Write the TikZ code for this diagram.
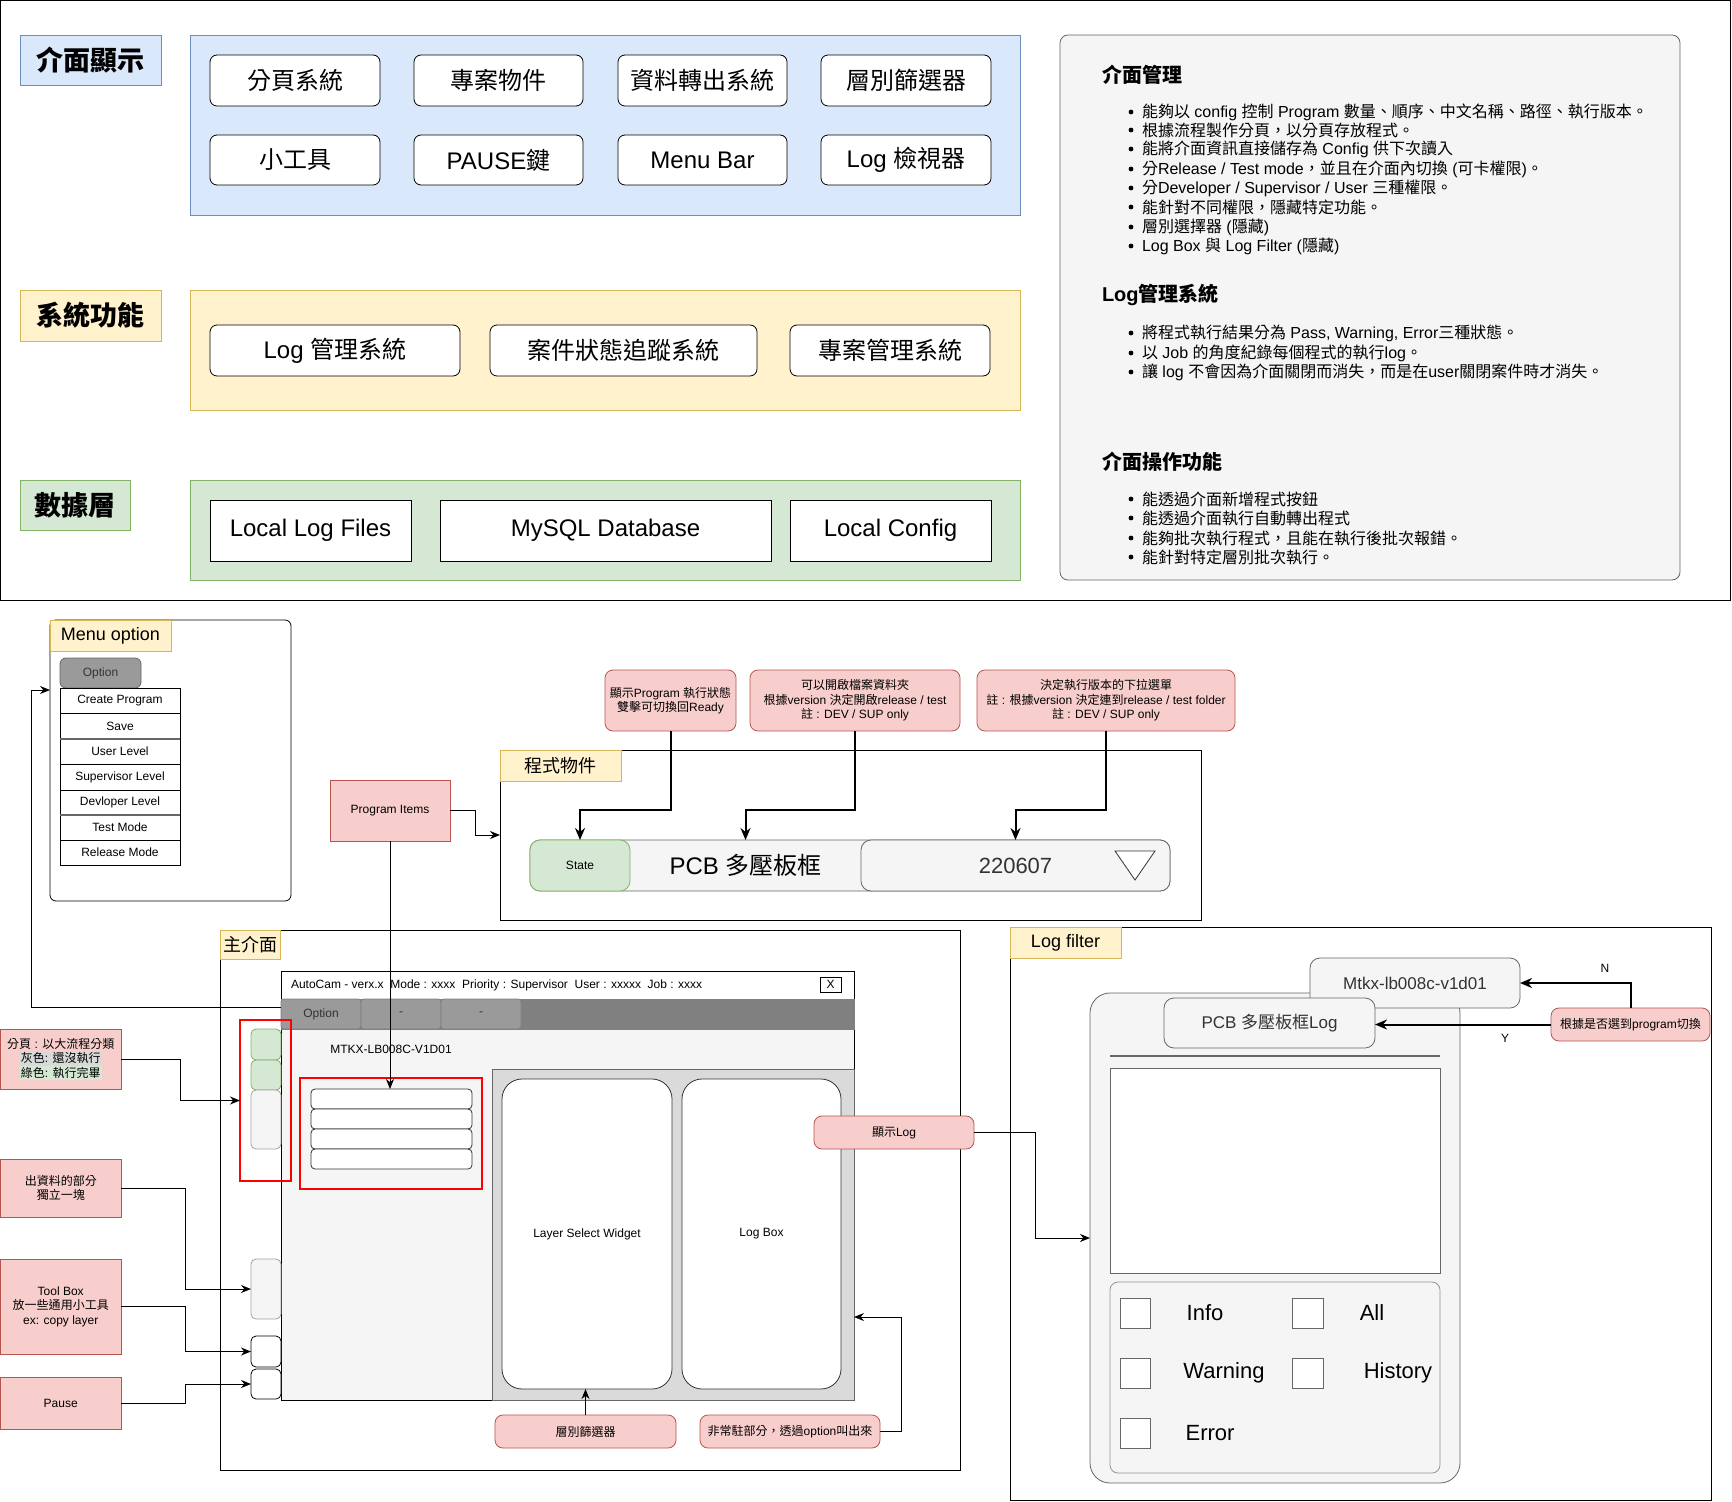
\documentclass[tikz,border=0pt]{standalone}
\usepackage{fontspec}
\setmainfont{Liberation Sans}
\newfontfamily\cjkf{Noto Sans CJK TC}
\newfontfamily\latf{Liberation Sans}
\usetikzlibrary{arrows.meta,calc}
\XeTeXinterchartokenstate=1
\newXeTeXintercharclass\cjkcls
\newcount\cjkc
\cjkc="2E80
\loop \XeTeXcharclass\cjkc=\cjkcls \advance\cjkc 1 \ifnum\cjkc<"A000 \repeat
\cjkc="FF00
\loop \XeTeXcharclass\cjkc=\cjkcls \advance\cjkc 1 \ifnum\cjkc<"FFF0 \repeat
\XeTeXinterchartoks 0 \cjkcls = {\cjkf}
\XeTeXinterchartoks 4095 \cjkcls = {\cjkf}
\XeTeXinterchartoks \cjkcls 0 = {\latf}
\XeTeXinterchartoks \cjkcls 4095 = {\latf}
\definecolor{pinkF}{HTML}{F8CECC}
\definecolor{pinkD}{HTML}{B85450}
\definecolor{yelF}{HTML}{FFF2CC}
\definecolor{yelD}{HTML}{D6B656}
\definecolor{bluF}{HTML}{DAE8FC}
\definecolor{bluD}{HTML}{6C8EBF}
\definecolor{grnF}{HTML}{D5E8D4}
\definecolor{grnD}{HTML}{82B366}
\definecolor{gryF}{HTML}{F5F5F5}
\definecolor{gryD}{HTML}{666666}
\definecolor{txtG}{HTML}{333333}
\definecolor{tabbar}{HTML}{808080}
\definecolor{tabF}{HTML}{9A9A9A}
\definecolor{panelG}{HTML}{DADADA}
\definecolor{hlG}{HTML}{D9D9D9}
\newcommand\mybox[7]{%
  \pgfmathsetmacro\bcx{(#2+#4)/2}%
  \pgfmathsetmacro\bcy{(#3+#5)/2}%
  \pgfmathsetmacro\bw{(#4-#2)/2}%
  \pgfmathsetmacro\bh{(#5-#3)/2}%
  \node[minimum width=\bw pt, minimum height=\bh pt, align=center, #6] (#1) at (\bcx,\bcy) {#7};%
}
\newcommand\bul[3]{\node[f8, anchor=west] (#1) at (1142,#2) {#3}; \fill[black] (1131,#2) circle (1.2pt);}
\tikzset{
  every node/.style={inner sep=0pt, outer sep=0pt},
  f6/.style={font=\fontsize{6}{7.2}\selectfont},
  f8/.style={font=\fontsize{8}{9.6}\selectfont},
  f85/.style={font=\fontsize{8.5}{10}\selectfont},
  f9/.style={font=\fontsize{9}{10.8}\selectfont},
  f11/.style={font=\fontsize{11}{13}\selectfont},
  f12/.style={font=\fontsize{12}{14}\selectfont},
  fh/.style={font=\fontsize{10}{12}\selectfont\bfseries},
  fL/.style={font=\fontsize{13.5}{16}\selectfont\bfseries},
  btn/.style={draw=black, fill=white, rounded corners=3.5pt, f12},
  dbox/.style={draw=black, fill=white, f12},
  note/.style={draw=pinkD, fill=pinkF, rounded corners=4pt, f6},
  sqnote/.style={draw=pinkD, fill=pinkF, f6},
  lbl/.style={draw=yelD, fill=yelF, f9},
  mitem/.style={draw=black, fill=white, f6},
  cbx/.style={draw=gryD, fill=white},
  arr/.style={-{Stealth[length=5pt,width=4pt]}, line width=0.5pt},
  tarr/.style={-{Stealth[length=6pt,width=5pt]}, line width=1pt},
}
\begin{document}
\begin{tikzpicture}[x=0.5pt,y=-0.5pt]
\useasboundingbox (0,0) rectangle (1732,1502);
\fill[white] (0,0) rectangle (1732,1502);
% ---------- top section ----------
\mybox{frame}{0.5}{0.5}{1730.5}{600}{draw=black, line width=0.5pt}{}
\mybox{lblA}{20}{35}{161}{85}{draw=bluD, fill=bluF, fL}{介面顯示}
\mybox{lblB}{20}{290}{161}{341}{draw=yelD, fill=yelF, fL}{系統功能}
\mybox{lblC}{20}{480}{130}{530}{draw=grnD, fill=grnF, fL}{數據層}
\mybox{ctA}{190}{35}{1020}{215}{draw=bluD, fill=bluF}{}
\mybox{ctB}{190}{290}{1020}{410}{draw=yelD, fill=yelF}{}
\mybox{ctC}{190}{480}{1020}{580}{draw=grnD, fill=grnF}{}
\mybox{b11}{210}{55}{380}{106}{btn}{分頁系統}
\mybox{b12}{414}{55}{583}{106}{btn}{專案物件}
\mybox{b13}{618}{55}{787}{106}{btn}{資料轉出系統}
\mybox{b14}{821}{55}{991}{106}{btn}{層別篩選器}
\mybox{b21}{210}{135}{380}{185}{btn}{小工具}
\mybox{b22}{414}{135}{583}{185}{btn}{PAUSE鍵}
\mybox{b23}{618}{135}{787}{185}{btn}{Menu Bar}
\mybox{b24}{821}{135}{991}{185}{btn}{Log 檢視器}
\mybox{s1}{210}{325}{460}{376}{btn}{Log 管理系統}
\mybox{s2}{490}{325}{757}{376}{btn}{案件狀態追蹤系統}
\mybox{s3}{790}{325}{990}{376}{btn}{專案管理系統}
\mybox{d1}{210}{500}{411}{561}{dbox}{Local Log Files}
\mybox{d2}{440}{500}{771}{561}{dbox}{MySQL Database}
\mybox{d3}{790}{500}{991}{561}{dbox}{Local Config}
\mybox{rp}{1060}{35}{1680}{580}{draw=gryD, fill=gryF, rounded corners=4pt}{}
\node[fh, anchor=west] (h1) at (1102,75) {介面管理};
\bul{t11}{112}{能夠以 config 控制 Program 數量、順序、中文名稱、路徑、執行版本。}
\bul{t12}{130}{根據流程製作分頁，以分頁存放程式。}
\bul{t13}{149}{能將介面資訊直接儲存為 Config 供下次讀入}
\bul{t14}{169}{分Release / Test mode，並且在介面內切換 (可卡權限)。}
\bul{t15}{188}{分Developer / Supervisor / User 三種權限。}
\bul{t16}{207}{能針對不同權限，隱藏特定功能。}
\bul{t17}{227}{層別選擇器 (隱藏)}
\bul{t18}{246}{Log Box 與 Log Filter (隱藏)}
\node[fh, anchor=west] (h2) at (1102,295) {Log管理系統};
\bul{t21}{333}{將程式執行結果分為 Pass, Warning, Error三種狀態。}
\bul{t22}{353}{以 Job 的角度紀錄每個程式的執行log。}
\bul{t23}{372}{讓 log 不會因為介面關閉而消失，而是在user關閉案件時才消失。}
\node[fh, anchor=west] (h3) at (1102,462) {介面操作功能};
\bul{t31}{499}{能透過介面新增程式按鈕}
\bul{t32}{518}{能透過介面執行自動轉出程式}
\bul{t33}{538}{能夠批次執行程式，且能在執行後批次報錯。}
\bul{t34}{557}{能針對特定層別批次執行。}
% ---------- menu option ----------
\mybox{mo}{50}{620}{291}{901}{draw=black, rounded corners=3pt}{}
\mybox{moL}{50}{620}{171}{651}{lbl}{Menu option}
\mybox{moBtn}{60}{658}{141}{688}{draw=gryD, fill=tabF, rounded corners=3pt, f6, text=txtG}{Option}
\mybox{mi1}{60}{688}{180}{713}{mitem}{Create Program}
\mybox{mi2}{60}{713}{180}{739}{mitem}{Save}
\mybox{mi3}{60}{739}{180}{764}{mitem}{User Level}
\mybox{mi4}{60}{764}{180}{790}{mitem}{Supervisor Level}
\mybox{mi5}{60}{790}{180}{815}{mitem}{Devloper Level}
\mybox{mi6}{60}{815}{180}{840}{mitem}{Test Mode}
\mybox{mi7}{60}{840}{180}{865}{mitem}{Release Mode}
\draw[gryD, line width=1.2pt] (mi2.south west) -- (mi2.south east);
\draw[gryD, line width=1.2pt] (mi5.south west) -- (mi5.south east);
% ---------- program items ----------
\mybox{pi}{330}{780}{450}{841}{sqnote}{Program Items}
\mybox{pg}{500}{750}{1201}{920}{draw=black}{}
\mybox{pgL}{500}{750}{621}{781}{lbl}{程式物件}
\mybox{bar}{530}{840}{1170}{891}{draw=gryD, fill=gryF, rounded corners=5pt}{}
\mybox{state}{530}{840}{630}{891}{draw=grnD, fill=grnF, rounded corners=5pt, f6}{State}
\mybox{pcb}{630}{840}{861}{891}{f12}{PCB 多壓板框}
\mybox{ver}{861}{840}{1170}{891}{draw=gryD, fill=gryF, rounded corners=5pt, f11, text=txtG}{220607}
\draw[draw=txtG, fill=white] (1115,851) -- (1155,851) -- (1135,880) -- cycle;
\mybox{n1}{605}{670}{736}{731}{note}{顯示Program 執行狀態\\雙擊可切換回Ready}
\mybox{n2}{750}{670}{960}{731}{note}{可以開啟檔案資料夾\\根據version 決定開啟release / test\\註 : DEV / SUP only}
\mybox{n3}{977}{670}{1235}{731}{note}{決定執行版本的下拉選單\\註 : 根據version 決定連到release / test folder\\註 : DEV / SUP only}
% ---------- main interface ----------
\mybox{mw}{220}{930}{960}{1470}{draw=black}{}
\mybox{mwL}{220}{930}{280}{959}{lbl}{主介面}
\mybox{win}{281}{971}{854}{1400}{draw=black, fill=gryF}{}
\mybox{title}{281}{971}{854}{999}{draw=black, fill=white}{}
\node[f6, anchor=west] (ttxt) at (291,985) {AutoCam - verx.x~~Mode : xxxx~~Priority : Supervisor~~User : xxxxx~~Job : xxxx};
\mybox{xb}{820}{977}{841}{992}{draw=black, fill=white, f6}{X}
\mybox{tbar}{281}{999}{854}{1029}{fill=tabbar, draw=tabbar}{}
\mybox{tab1}{281}{999}{361}{1029}{fill=tabF, draw=tabbar, rounded corners=1.5pt, f6, text=txtG}{Option}
\mybox{tab2}{361}{999}{441}{1029}{fill=tabF, draw=tabbar, rounded corners=1.5pt, f6, text=txtG}{-}
\mybox{tab3}{441}{999}{521}{1029}{fill=tabF, draw=tabbar, rounded corners=1.5pt, f6, text=txtG}{-}
\node[f6] (job) at (391,1049) {MTKX-LB008C-V1D01};
\mybox{r1}{311}{1089}{472}{1109}{draw=black!80, fill=white, rounded corners=2pt}{}
\mybox{r2}{311}{1109}{472}{1129}{draw=black!80, fill=white, rounded corners=2pt}{}
\mybox{r3}{311}{1129}{472}{1149}{draw=black!80, fill=white, rounded corners=2pt}{}
\mybox{r4}{311}{1149}{472}{1169}{draw=black!80, fill=white, rounded corners=2pt}{}
\mybox{redL}{300}{1078}{482}{1189}{draw=red, line width=1pt}{}
\mybox{sg1}{251}{1029}{281}{1060}{draw=grnD, fill=grnF, rounded corners=2.5pt}{}
\mybox{sg2}{251}{1060}{281}{1090}{draw=grnD, fill=grnF, rounded corners=2.5pt}{}
\mybox{sgr}{251}{1090}{281}{1149}{draw=gryD!60, fill=gryF, rounded corners=2.5pt}{}
\mybox{redS}{240}{1020}{291}{1181}{draw=red, line width=1pt}{}
\mybox{tabG}{251}{1259}{281}{1319}{draw=gryD!60, fill=gryF, rounded corners=2.5pt}{}
\mybox{tabW1}{251}{1336}{281}{1367}{draw=black, fill=white, rounded corners=2.5pt}{}
\mybox{tabW2}{251}{1369}{281}{1399}{draw=black, fill=white, rounded corners=2.5pt}{}
\mybox{gp}{492}{1069}{854}{1400}{draw=gryD, fill=panelG}{}
\mybox{lsw}{502}{1079}{672}{1389}{draw=black!80, fill=white, rounded corners=10pt, f6}{Layer Select Widget}
\mybox{lbw}{682}{1079}{841}{1389}{draw=black!80, fill=white, rounded corners=10pt, f6}{Log Box}
\mybox{sl}{814}{1116}{974}{1149}{note}{顯示Log}
\mybox{lsn}{495}{1415}{676}{1448}{note}{層別篩選器}
\mybox{nf}{700}{1415}{880}{1448}{note}{非常駐部分，透過option叫出來}
% ---------- left notes ----------
\setlength{\fboxsep}{0.6pt}
\mybox{np}{0.5}{1029}{121}{1089}{sqnote}{分頁 : 以大流程分類\\\colorbox{hlG}{灰色: 還沒執行}\\\colorbox{grnF}{綠色: 執行完畢}}
\mybox{nd}{0.5}{1159}{121}{1217}{sqnote}{出資料的部分\\獨立一塊}
\mybox{nt}{0.5}{1259}{121}{1354}{sqnote}{Tool Box\\放一些通用小工具\\ex: copy layer}
\mybox{nps}{0.5}{1377}{121}{1429}{sqnote}{Pause}
% ---------- log filter ----------
\mybox{lf}{1010}{927}{1711}{1500}{draw=black}{}
\mybox{lfL}{1010}{927}{1121}{958}{lbl}{Log filter}
\mybox{dev}{1090}{993}{1460}{1483}{draw=gryD, fill=gryF, rounded corners=10pt}{}
\mybox{mt}{1310}{958}{1520}{1008}{draw=gryD, fill=gryF, rounded corners=5pt, f85, text=txtG}{Mtkx-lb008c-v1d01}
\mybox{pl}{1164}{998}{1375}{1048}{draw=gryD, fill=gryF, rounded corners=5pt, f85, text=txtG}{PCB 多壓板框Log}
\draw[gryD, line width=1pt] (1110,1056) -- (1440,1056);
\mybox{la}{1110}{1068}{1440}{1273}{draw=gryD, fill=white}{}
\mybox{cp}{1110}{1282}{1440}{1473}{draw=gryD!70, fill=gryF, rounded corners=4pt}{}
\mybox{cb1}{1120}{1298}{1150}{1328}{cbx}{}
\mybox{cb2}{1292}{1298}{1323}{1328}{cbx}{}
\mybox{cb3}{1120}{1358}{1150}{1388}{cbx}{}
\mybox{cb4}{1292}{1358}{1323}{1388}{cbx}{}
\mybox{cb5}{1120}{1418}{1150}{1448}{cbx}{}
\node[f11] (lInfo) at (1205,1313) {Info};
\node[f11] (lAll) at (1372,1313) {All};
\node[f11] (lWarn) at (1224,1373) {Warning};
\node[f11] (lHist) at (1398,1373) {History};
\node[f11] (lErr) at (1210,1433) {Error};
\mybox{sw}{1551}{1008}{1710}{1041}{note}{根據是否選到program切換}
\node[f6] (lN) at (1605,968) {N};
\node[f6] (lY) at (1505,1038) {Y};
% ---------- connectors ----------
\coordinate (jog) at (0,810);
\draw[tarr] (n1.south) -- (n1.south |- jog) -| (state.north);
\draw[tarr] (n2.south) -- (n2.south |- jog) -| (pcb.north);
\draw[tarr] (n3.south) -- (n3.south |- jog) -| (ver.north);
\draw[arr] (pi.east) -- ++(25,0) |- (pg.west);
\draw[arr] (pi.south) -- (pi.south |- r1.north);
\coordinate (mstart) at (281,1007);
\coordinate (mtarget) at (50,690);
\draw[arr] (mstart) -| ($(mtarget)+(-19,0)$) -- (mtarget);
\draw[arr] (np.east) -- ++(59,0) |- (redS.west);
\draw[arr] (nd.east) -- ++(64,0) |- (tabG.west);
\draw[arr] (nt.east) -- ++(64,0) |- (tabW1.west);
\draw[arr] (nps.east) -- ++(64,0) |- (tabW2.west);
\draw[arr] (lsn.north) -- (lsn.north |- lsw.south);
\coordinate (nfT) at (854,1317);
\draw[arr] (nf.east) -- ++(21,0) |- (nfT);
\draw[arr] (sl.east) -- ++(61,0) |- (dev.west);
\draw[tarr] (sw.north) |- (mt.east);
\draw[tarr] (sw.west) -- (sw.west -| pl.east);
\end{tikzpicture}
\end{document}
